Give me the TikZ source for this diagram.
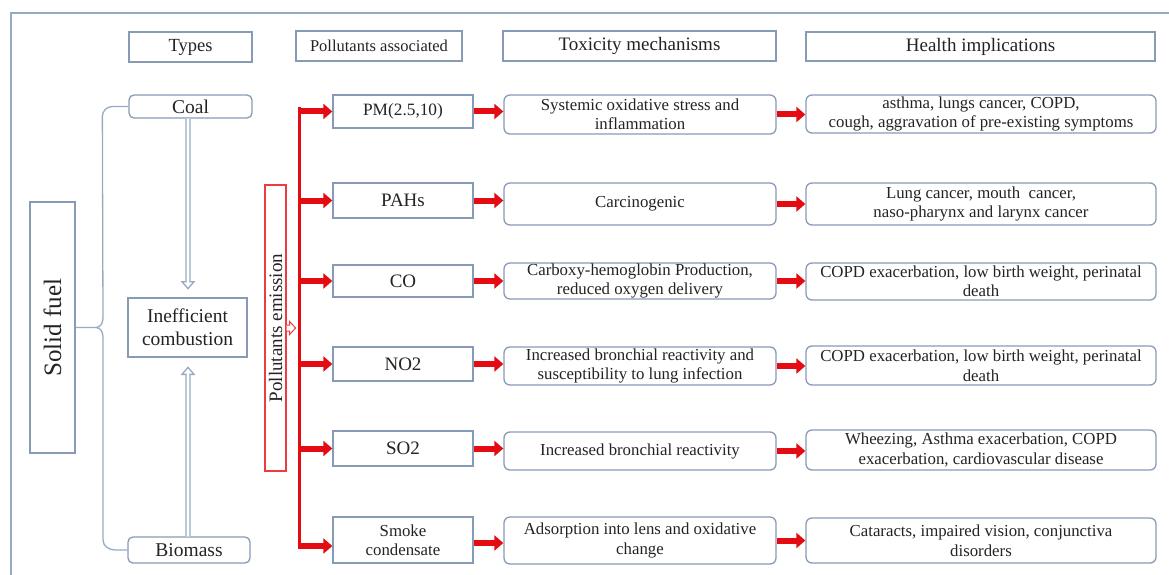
\documentclass[tikz,border=0pt]{standalone}
\usepackage{fontspec}
\setmainfont{Liberation Serif}
\usetikzlibrary{arrows.meta,calc}
\definecolor{boxc}{RGB}{135,155,182}
\definecolor{framec}{RGB}{150,170,195}
\definecolor{linkc}{RGB}{150,170,198}
\definecolor{redc}{RGB}{228,12,18}
\definecolor{txt}{RGB}{35,35,35}
\begin{document}
\begin{tikzpicture}[x=1pt,y=-1pt,
  box/.style={draw=boxc, line width=1.3pt, inner sep=0pt, align=center, text=txt, font=\fontsize{16.8}{19.5}\selectfont},
  rbox/.style={box, rounded corners=6pt},
  hdr/.style={box, font=\fontsize{19}{22}\selectfont},
  big/.style={box, font=\fontsize{19.5}{23}\selectfont},
  redarrow/.style={draw=redc, line width=6pt, -{Triangle[length=9pt,width=15pt]}},
  hollow/.style={draw=linkc, line width=1.3pt, fill=white, line join=miter},
  link/.style={draw=linkc, line width=1.3pt},
]
\useasboundingbox (0,0) rectangle (1169,575);
\begin{scope}
  \clip (0,0) rectangle (1169,575);
  \draw[draw=framec, line width=2pt] (11,13) rectangle (1190,600);
\end{scope}

% headers
\node[box, minimum width=123pt, minimum height=30pt, font=\fontsize{18.5}{20}\selectfont] (types) at (190.5,47) {Types};
\node[box, minimum width=166pt, minimum height=30pt, font=\fontsize{16.5}{20}\selectfont] (passoc) at (379,46) {Pollutants associated};
\node[hdr, minimum width=273pt, minimum height=30pt] (toxh) at (639.5,46) {Toxicity mechanisms};
\node[hdr, minimum width=349pt, minimum height=29pt] (healthh) at (980.5,46.5) {Health implications};

% left part
\node[rbox, big, rounded corners=5pt, minimum width=123pt, minimum height=23pt] (coal) at (190.5,106.5) {Coal};
\node[rbox, big, rounded corners=5pt, minimum width=122pt, minimum height=26pt] (biomass) at (189,550) {Biomass};
\node[big, minimum width=119pt, minimum height=59pt] (ineff) at (187.5,327.5) {Inefficient\\combustion};
\node[box, minimum width=45pt, minimum height=251pt] (solid) at (52.5,327.5) {};
\node[rotate=90, text=txt, inner sep=0pt, font=\fontsize{25}{28}\selectfont] (solidtxt) at (solid.center) {Solid fuel};

% brace
\draw[link] (coal.west) -- ++(-16,0) to[out=180,in=90] ++(-10,10) -- (103,318)
  to[out=-90,in=0] (96,327.5) -- (solid.east);
\draw[link] (96,327.5) to[out=0,in=90] (103,337) -- (103,540)
  to[out=-90,in=180] ($(biomass.west)+(-12,0)$) -- (biomass.west);

% hollow arrows
\draw[hollow] ($(coal.south)+(-4.5,0)$) -- ++(0,163) -- ++(-4,0) -- ++(6,7) -- ++(6,-7) -- ++(-4,0) -- ($(coal.south)+(-0.5,0)$);
\draw[hollow] ($(biomass.north)+(-3,0)$) -- ++(0,-162) -- ++(-4,0) -- ++(6,-7) -- ++(6,7) -- ++(-4,0) -- ($(biomass.north)+(1,0)$);

% pollutants emission
\node[draw=redc!80, line width=1.2pt, minimum width=21pt, minimum height=286pt, inner sep=0pt] (emis) at (275.5,328) {};
\node[rotate=90, text=txt, inner sep=0pt, font=\fontsize{19}{22}\selectfont] (emistxt) at (emis.center) {Pollutants emission};
\draw[draw=redc!80, line width=1pt, fill=white] ($(emis.east)+(0,-3)$) -- ++(3,0) -- ++(0,-3.5) -- ++(6,6.5) -- ++(-6,6.5) -- ++(0,-3.5) -- ++(-3,0);

% pollutant boxes
\node[box, minimum width=140pt, minimum height=33pt, font=\fontsize{17.3}{20}\selectfont] (pm) at (403,111.5) {PM(2.5,10)};
\node[box, minimum width=140pt, minimum height=35pt, font=\fontsize{19}{22}\selectfont] (pahs) at (403,200.5) {PAHs};
\node[box, minimum width=140pt, minimum height=32pt, font=\fontsize{19}{22}\selectfont] (co) at (403,281) {CO};
\node[box, minimum width=140pt, minimum height=34pt, font=\fontsize{19}{22}\selectfont] (no2) at (403,364) {NO2};
\node[box, minimum width=140pt, minimum height=35pt, font=\fontsize{19}{22}\selectfont] (so2) at (403,448.5) {SO2};
\node[box, minimum width=140pt, minimum height=46pt] (smoke) at (403,540) {Smoke\\condensate};

% mechanism boxes
\node[rbox, minimum width=272pt, minimum height=39pt] (mpm) at (640,114.5) {Systemic oxidative stress and\\inflammation};
\node[rbox, minimum width=272pt, minimum height=42pt] (mpahs) at (640,204) {Carcinogenic};
\node[rbox, minimum width=272pt, minimum height=36pt] (mco) at (640,281) {Carboxy-hemoglobin Production,\\reduced oxygen delivery};
\node[rbox, minimum width=272pt, minimum height=38pt] (mno2) at (640,366) {Increased bronchial reactivity and\\susceptibility to lung infection};
\node[rbox, minimum width=272pt, minimum height=38pt] (mso2) at (640,451) {Increased bronchial reactivity};
\node[rbox, minimum width=272pt, minimum height=47pt] (msmoke) at (640,540.5) {Adsorption into lens and oxidative\\change};

% health boxes
\node[rbox, minimum width=350pt, minimum height=38pt] (hpm) at (981,114) {asthma, lungs cancer, COPD,\\cough, aggravation of pre-existing symptoms};
\node[rbox, minimum width=350pt, minimum height=42pt] (hpahs) at (981,204) {Lung cancer, mouth\ \ cancer,\\naso-pharynx and larynx cancer};
\node[rbox, minimum width=350pt, minimum height=37pt] (hco) at (981,281.5) {COPD exacerbation, low birth weight, perinatal\\death};
\node[rbox, minimum width=350pt, minimum height=39pt] (hno2) at (981,365.5) {COPD exacerbation, low birth weight, perinatal\\death};
\node[rbox, minimum width=350pt, minimum height=40pt] (hso2) at (981,450) {Wheezing, Asthma exacerbation, COPD\\exacerbation, cardiovascular disease};
\node[rbox, minimum width=350pt, minimum height=45pt] (hsmoke) at (981,540.5) {Cataracts, impaired vision, conjunctiva\\disorders};

% red trunk and branches
\coordinate (ttop) at (299,107.5);
\coordinate (tbot) at (299,549);
\draw[redc, line width=3pt] (ttop) -- (tbot);
\foreach \n in {pm,pahs,co,no2,so2} {
  \draw[redarrow] ($(\n.west -| ttop)+(-1.5,0)$) -- (\n.west);
}
\draw[redarrow] ($(smoke.west -| ttop)+(-1.5,6)$) -- ($(smoke.west)+(0,6)$);

% red arrows between columns
\foreach \a/\b in {pm/mpm,pahs/mpahs,co/mco,no2/mno2,so2/mso2} {
  \draw[redarrow] (\a.east) -- (\a.east -| \b.west);
}
\draw[redarrow] ($(smoke.east)+(0,3)$) -- ($(smoke.east -| msmoke.west)+(0,3)$);
\foreach \a/\b in {mpm/hpm,mpahs/hpahs,mco/hco,mno2/hno2,mso2/hso2,msmoke/hsmoke} {
  \draw[redarrow] (\a.east) -- (\a.east -| \b.west);
}
\end{tikzpicture}
\end{document}
